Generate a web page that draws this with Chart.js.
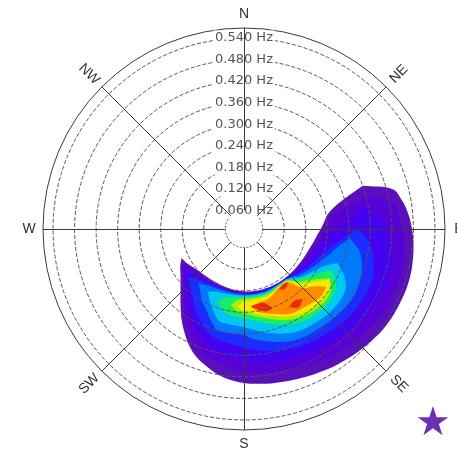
<!DOCTYPE html>
<html>
<head>
<meta charset="utf-8">
<script src="https://cdn.jsdelivr.net/npm/chart.js@4.4.1/dist/chart.umd.min.js"></script>
<style>
  html, body { margin: 0; padding: 0; background: #ffffff; }
  #wrap { position: relative; width: 457px; height: 449px; overflow: hidden; }
  #star { position: absolute; left: 415px; top: 401px; font: 40px 'DejaVu Sans'; color: #6b2fb3; line-height: 1; }
</style>
</head>
<body>
<div id="wrap">
  <canvas id="spectrum" width="457" height="449"></canvas>
  <div id="star">★</div>
</div>
<script>
// Directional wave spectrum: energy contour bands on a frequency / compass-bearing polar grid.
const bearingStep = 5;                       // degrees between direction samples
const scaleMin = 0.008;                      // Hz at the centre
const scaleMax = 0.568;                      // Hz at the outer frame
const ringFreqs = [0.06, 0.12, 0.18, 0.24, 0.30, 0.36, 0.42, 0.48, 0.54];
const compassNames = ['N', 'NE', 'E', 'SE', 'S', 'SW', 'W', 'NW'];

// Each contour band: first bearing (deg), then inner / outer frequency edge (Hz) every 5 deg.
const level1Start = 70;
const level1Inner = [0.360, 0.279, 0.245, 0.232, 0.222, 0.212, 0.206, 0.200, 0.196, 0.193, 0.191, 0.189, 0.188, 0.187, 0.186, 0.186, 0.185, 0.185, 0.184, 0.184, 0.183, 0.183, 0.182, 0.181, 0.180, 0.178, 0.177, 0.176, 0.176, 0.176, 0.177, 0.179, 0.182, 0.188, 0.195, 0.200];
const level1Outer = [0.360, 0.437, 0.456, 0.468, 0.476, 0.482, 0.486, 0.489, 0.490, 0.489, 0.488, 0.486, 0.482, 0.477, 0.472, 0.467, 0.462, 0.457, 0.452, 0.448, 0.445, 0.441, 0.437, 0.430, 0.420, 0.405, 0.390, 0.368, 0.340, 0.312, 0.283, 0.258, 0.239, 0.224, 0.213, 0.200];

const level2Start = 75;
const level2Inner = [0.362, 0.266, 0.249, 0.235, 0.224, 0.216, 0.209, 0.204, 0.201, 0.198, 0.194, 0.191, 0.189, 0.187, 0.187, 0.186, 0.186, 0.186, 0.186, 0.185, 0.185, 0.184, 0.183, 0.182, 0.181, 0.180, 0.179, 0.179, 0.180, 0.182, 0.184, 0.188, 0.195, 0.203];
const level2Outer = [0.362, 0.427, 0.441, 0.449, 0.456, 0.460, 0.463, 0.463, 0.461, 0.460, 0.457, 0.453, 0.449, 0.443, 0.438, 0.432, 0.427, 0.423, 0.418, 0.416, 0.411, 0.407, 0.399, 0.388, 0.379, 0.363, 0.343, 0.321, 0.293, 0.268, 0.246, 0.228, 0.214, 0.203];

const level3Start = 80;
const level3Inner = [0.346, 0.304, 0.266, 0.246, 0.232, 0.221, 0.214, 0.209, 0.204, 0.199, 0.195, 0.191, 0.188, 0.188, 0.187, 0.187, 0.187, 0.187, 0.187, 0.186, 0.186, 0.185, 0.184, 0.183, 0.182, 0.182, 0.184, 0.185, 0.188, 0.192, 0.198, 0.207];
const level3Outer = [0.346, 0.382, 0.404, 0.418, 0.427, 0.431, 0.432, 0.431, 0.427, 0.424, 0.420, 0.416, 0.410, 0.406, 0.402, 0.398, 0.393, 0.389, 0.385, 0.379, 0.374, 0.366, 0.359, 0.352, 0.338, 0.318, 0.299, 0.277, 0.254, 0.235, 0.220, 0.207];

const level4Start = 90;
const level4Inner = [0.324, 0.288, 0.263, 0.246, 0.232, 0.223, 0.216, 0.208, 0.202, 0.193, 0.189, 0.189, 0.188, 0.189, 0.189, 0.190, 0.189, 0.189, 0.188, 0.188, 0.187, 0.186, 0.186, 0.186, 0.188, 0.191, 0.195, 0.202, 0.213];
const level4Outer = [0.324, 0.354, 0.371, 0.382, 0.391, 0.393, 0.393, 0.392, 0.389, 0.385, 0.381, 0.377, 0.374, 0.370, 0.364, 0.359, 0.353, 0.346, 0.338, 0.332, 0.327, 0.324, 0.310, 0.292, 0.274, 0.254, 0.236, 0.223, 0.213];

const level5Start = 95;
const level5Inner = [0.304, 0.277, 0.260, 0.246, 0.235, 0.225, 0.216, 0.208, 0.196, 0.191, 0.190, 0.189, 0.191, 0.192, 0.192, 0.192, 0.191, 0.191, 0.190, 0.189, 0.189, 0.189, 0.191, 0.193, 0.198, 0.204];
const level5Outer = [0.304, 0.332, 0.348, 0.357, 0.363, 0.366, 0.366, 0.363, 0.360, 0.357, 0.354, 0.353, 0.349, 0.342, 0.334, 0.324, 0.316, 0.304, 0.302, 0.300, 0.299, 0.279, 0.257, 0.241, 0.221, 0.204];

const level6Start = 110;
const level6Inner = [0.285, 0.254, 0.238, 0.225, 0.215, 0.200, 0.192, 0.191, 0.191, 0.192, 0.194, 0.194, 0.194, 0.193, 0.193, 0.193, 0.193, 0.195, 0.196, 0.200, 0.210];
const level6Outer = [0.285, 0.316, 0.335, 0.341, 0.342, 0.341, 0.338, 0.335, 0.332, 0.327, 0.318, 0.309, 0.299, 0.289, 0.282, 0.278, 0.277, 0.274, 0.254, 0.232, 0.210];

const level7Start = 115;
const level7Inner = [0.277, 0.252, 0.235, 0.221, 0.207, 0.193, 0.192, 0.192, 0.195, 0.197, 0.198, 0.197, 0.197, 0.198, 0.198, 0.200, 0.206, 0.221];
const level7Outer = [0.277, 0.304, 0.316, 0.321, 0.321, 0.318, 0.316, 0.310, 0.302, 0.291, 0.281, 0.271, 0.263, 0.257, 0.254, 0.250, 0.241, 0.221];

const level8Start = 120;
const level8Inner = [0.282, 0.252, 0.232, 0.216, 0.195, 0.193, 0.194, 0.198, 0.201, 0.202, 0.202, 0.202, 0.203, 0.207, 0.224];
const level8Outer = [0.282, 0.304, 0.310, 0.310, 0.307, 0.303, 0.296, 0.288, 0.277, 0.267, 0.257, 0.249, 0.243, 0.238, 0.224];

const level9Start = 120;
const level9Inner = [0.285, 0.263, 0.243, 0.224, 0.198, 0.195, 0.196, 0.202, 0.206, 0.207, 0.207, 0.209, 0.211, 0.224];
const level9Outer = [0.285, 0.299, 0.303, 0.302, 0.299, 0.293, 0.286, 0.278, 0.267, 0.257, 0.249, 0.242, 0.236, 0.224];

const level10Start = 125;
const level10Inner = [0.288, 0.257, 0.241, 0.202, 0.196, 0.199, 0.206, 0.213, 0.216, 0.218, 0.227];
const level10Outer = [0.288, 0.293, 0.291, 0.285, 0.282, 0.279, 0.271, 0.260, 0.252, 0.243, 0.227];

// peak cells
const peakAStart = 160;
const peakAInner = [0.243, 0.221, 0.220, 0.224];
const peakAOuter = [0.243, 0.246, 0.236, 0.224];
const peakBStart = 140;
const peakBInner = [0.200, 0.197, 0.203];
const peakBOuter = [0.200, 0.210, 0.203];
const peakCStart = 140;
const peakCInner = [0.263, 0.252, 0.260];
const peakCOuter = [0.263, 0.274, 0.260];

// Drawing order (low energy first) and fill colours.
const bands = [
  { start: level1Start, inner: level1Inner, outer: level1Outer, color: '#5a0fbd' },
  { start: level2Start, inner: level2Inner, outer: level2Outer, color: '#5700d8' },
  { start: level3Start, inner: level3Inner, outer: level3Outer, color: '#4302f0' },
  { start: level4Start, inner: level4Inner, outer: level4Outer, color: '#1c2cff' },
  { start: level5Start, inner: level5Inner, outer: level5Outer, color: '#0079ff' },
  { start: level6Start, inner: level6Inner, outer: level6Outer, color: '#00c9ef' },
  { start: level7Start, inner: level7Inner, outer: level7Outer, color: '#1aec64' },
  { start: level8Start, inner: level8Inner, outer: level8Outer, color: '#a8f000' },
  { start: level9Start, inner: level9Inner, outer: level9Outer, color: '#f6ea00' },
  { start: level10Start, inner: level10Inner, outer: level10Outer, color: '#ff8a00' },
  { start: peakAStart, inner: peakAInner, outer: peakAOuter, color: '#ec2a04' },
  { start: peakBStart, inner: peakBInner, outer: peakBOuter, color: '#ec2a04' },
  { start: peakCStart, inner: peakCInner, outer: peakCOuter, color: '#ec2a04' }
];

const sampleCount = 360 / bearingStep;
const bearingLabels = Array.from({ length: sampleCount }, (_, i) => i * bearingStep);

// Place a band's sector into the full circle; bearings outside it stay empty.
function aroundCircle(start, values) {
  const first = start / bearingStep;
  const out = new Array(sampleCount).fill(null);
  values.forEach((v, k) => { out[first + k] = v; });
  return out;
}

const datasets = [];
bands.forEach((b, k) => {
  const common = { pointRadius: 0, pointHoverRadius: 0, borderWidth: 0, tension: 0.35, spanGaps: false, order: bands.length - k };
  datasets.push(Object.assign({ data: aroundCircle(b.start, b.outer), fill: '+1', backgroundColor: b.color, borderColor: b.color }, common));
  datasets.push(Object.assign({ data: aroundCircle(b.start, b.inner), fill: false, backgroundColor: 'transparent', borderColor: 'transparent' }, common));
});

// Soft shading of the contour fills.
const softFill = {
  id: 'softFill',
  beforeDatasetsDraw(chart) { chart.ctx.save(); chart.ctx.filter = 'blur(0.7px)'; },
  afterDatasetsDraw(chart) { chart.ctx.restore(); }
};

// Compass spokes from the inner ring to the frame, and rotated direction names.
const compassPlugin = {
  id: 'compass',
  afterDraw(chart) {
    const s = chart.scales.r;
    const ctx = chart.ctx;
    const r0 = s.getDistanceFromCenterForValue(ringFreqs[0]);
    const r1 = s.getDistanceFromCenterForValue(s.max);
    const perOctant = 45 / bearingStep;
    ctx.save();
    ctx.strokeStyle = '#3a3a3a';
    ctx.lineWidth = 1;
    compassNames.forEach((_, j) => {
      const p0 = s.getPointPosition(j * perOctant, r0);
      const p1 = s.getPointPosition(j * perOctant, r1);
      const ox = Math.abs(p0.x - p1.x) < 0.5 ? 0.5 : 0;
      const oy = Math.abs(p0.y - p1.y) < 0.5 ? 0.5 : 0;
      ctx.beginPath();
      ctx.moveTo(p0.x + ox, p0.y + oy);
      ctx.lineTo(p1.x + ox, p1.y + oy);
      ctx.stroke();
    });
    ctx.fillStyle = '#333333';
    ctx.font = '14px "Liberation Sans", Arial, sans-serif';
    ctx.textAlign = 'center';
    ctx.textBaseline = 'middle';
    compassNames.forEach((name, j) => {
      const diagonal = j % 2 === 1;
      const p = s.getPointPosition(j * perOctant, r1 + (diagonal ? 18 : 14));
      const turn = diagonal ? ((j === 1 || j === 5) ? -Math.PI / 4 : Math.PI / 4) : 0;
      ctx.save();
      ctx.translate(p.x, p.y);
      ctx.rotate(turn);
      ctx.fillText(name, 0, 0);
      ctx.restore();
    });
    ctx.restore();
  }
};

new Chart(document.getElementById('spectrum'), {
  type: 'radar',
  data: { labels: bearingLabels, datasets },
  options: {
    responsive: false,
    animation: false,
    events: [],
    layout: { padding: { left: 36, top: 21, right: 4, bottom: 11 } },
    plugins: { legend: { display: false }, tooltip: { enabled: false } },
    scales: {
      r: {
        min: scaleMin,
        max: scaleMax,
        startAngle: 0,
        afterBuildTicks: (axis) => {
          axis.ticks = [scaleMin, ...ringFreqs, scaleMax].map(v => ({ value: v }));
        },
        grid: {
          circular: true,
          z: 1,
          lineWidth: 1,
          color: (c) => (c.tick && c.tick.value >= scaleMax) ? '#3a3a3a' : '#555555'
        },
        border: {
          dash: (c) => {
            if (c.tick && c.tick.value >= scaleMax) return [];
            if (c.tick && c.tick.value === ringFreqs[0]) return [2, 1.5];
            return [4, 2];
          }
        },
        angleLines: { display: false },
        pointLabels: { display: false },
        ticks: {
          z: 2,
          color: '#555555',
          font: { family: 'DejaVu Sans', size: 13 },
          backdropPadding: { x: 2, y: 1 },
          backdropColor: '#ffffff',
          showLabelBackdrop: (c) => !(c.tick && c.tick.value >= scaleMax),
          callback: (v) => ringFreqs.includes(v) ? v.toFixed(3) + ' Hz' : ''
        }
      }
    }
  },
  plugins: [softFill, compassPlugin]
});
</script>
</body>
</html>
